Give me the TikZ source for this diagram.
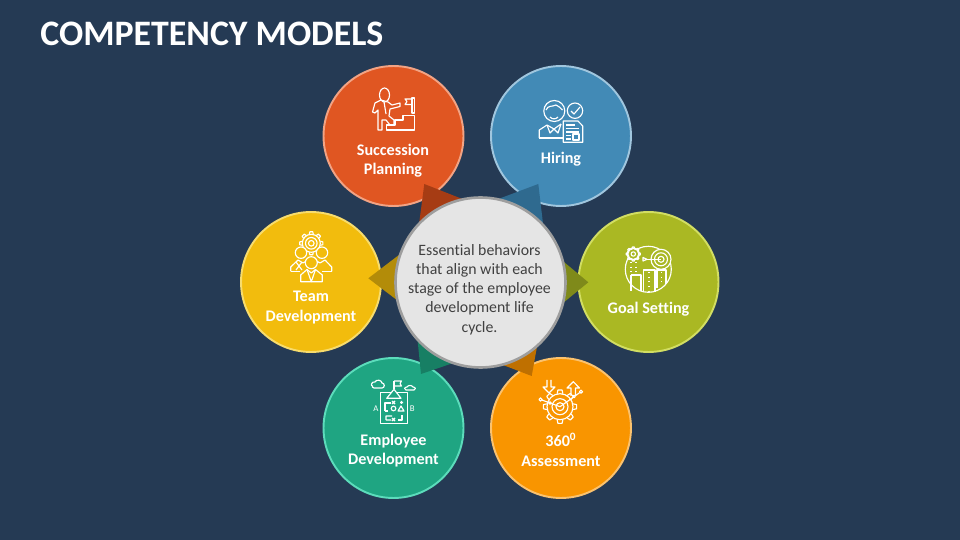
\documentclass[tikz,border=0pt]{standalone}
\usepackage{fontspec}
\setmainfont[Ligatures=NoCommon]{Carlito}
\definecolor{slate}{HTML}{253A54}
\definecolor{redfill}{HTML}{E05622}
\definecolor{redline}{HTML}{F2A384}
\definecolor{redtip}{HTML}{A63C14}
\definecolor{bluefill}{HTML}{428AB6}
\definecolor{blueline}{HTML}{A0C6DE}
\definecolor{bluetip}{HTML}{2F6A8F}
\definecolor{olivefill}{HTML}{AAB823}
\definecolor{oliveline}{HTML}{D2DE62}
\definecolor{olivetip}{HTML}{7F8A1A}
\definecolor{yellowfill}{HTML}{F2BC0D}
\definecolor{yellowline}{HTML}{F8DC6C}
\definecolor{yellowtip}{HTML}{B38C09}
\definecolor{tealfill}{HTML}{1FA582}
\definecolor{tealline}{HTML}{5CDCBB}
\definecolor{tealtip}{HTML}{177F64}
\definecolor{amberfill}{HTML}{F99500}
\definecolor{amberline}{HTML}{FBC26E}
\definecolor{ambertip}{HTML}{BF7000}
\newcommand{\cog}[3]{
  \draw[icon] (#1,#2) circle (#3);
  \foreach \a in {0,45,...,315}
    \draw[icon,shift={(#1,#2)},rotate=\a] (#3,-.22*#3) -- (1.28*#3,-.16*#3) -- (1.28*#3,.16*#3) -- (#3,.22*#3);
}
\begin{document}
\begin{tikzpicture}[x=.02cm,y=-.02cm,
    stage/.style={circle, inner sep=0pt, minimum size=2.8cm, line width=1.1pt},
    hub/.style={circle, inner sep=0pt, minimum size=3.4cm, line width=1.5pt, draw=black!38, fill=black!10},
    stagelabel/.style={white, align=center, font=\fontsize{9.2}{10.9}\selectfont\bfseries},
    icon/.style={white, line width=.65pt, line join=round},
    tiny/.style={white, inner sep=0pt, font=\fontsize{5}{5}\selectfont}]
   \fill[slate] (0,0) rectangle (960,540);
   \path[use as bounding box] (0,0) rectangle (960,540);

   \node[white, anchor=base west, inner sep=0pt, font=\fontsize{20.4}{24}\selectfont\bfseries] (title) at (40,46) {COMPETENCY MODELS};

   \node[stage, fill=redfill, draw=redline] (succession) at (393.5,136) {};
   \node[stage, fill=bluefill, draw=blueline] (hiring) at (561,136) {};
   \node[stage, fill=olivefill, draw=oliveline] (goal) at (648.5,282) {};
   \node[stage, fill=amberfill, draw=amberline] (assessment) at (561,428) {};
   \node[stage, fill=tealfill, draw=tealline] (employee) at (393.5,428) {};
   \node[stage, fill=yellowfill, draw=yellowline] (team) at (311,282) {};

   \fill[redtip] (424.3,184) -- (418,232) -- (475,204) -- cycle;
   \fill[bluetip] (538.3,184) -- (544,232) -- (485,204) -- cycle;
   \fill[olivetip] (588.3,282.3) -- (552,252) -- (552,312) -- cycle;
   \fill[ambertip] (531.7,376) -- (540,330) -- (490,360) -- cycle;
   \fill[tealtip] (421,374) -- (416,325) -- (465,359) -- cycle;
   \fill[yellowtip] (368.3,278.3) -- (410,246.6) -- (410,310) -- cycle;

   \node[hub] (core) at (480.5,282.5) {};
   \node[align=center, text=black!75, font=\fontsize{9}{10.95}\selectfont] (coretext) at (479.5,289.5) {Essential behaviors\\that align with each\\stage of the employee\\development life\\cycle.};

   \node[stagelabel] (successiontext) at (393,160.5) {Succession\\Planning};
   \node[stagelabel] (hiringtext) at (561,159) {Hiring};
   \node[stagelabel] (goaltext) at (648.5,309) {Goal Setting};
   \node[stagelabel] (assessmenttext) at (561,449.5) {360\textsuperscript{0}\\Assessment};
   \node[stagelabel] (employeetext) at (393.5,450.5) {Employee\\Development};
   \node[stagelabel] (teamtext) at (311,307.5) {Team\\Development};

   % succession
   \draw[icon] (384.5,95) ellipse (5 and 7);
   \draw[icon] (372.5,112) -- (375,103) -- (381,100) -- (388,102) -- (392,105) -- (400,103) -- (400,106.5) -- (390,109) -- (389,116) -- (394,120) -- (394,125) -- (390,125) -- (386,120) -- (382,120) -- (382,130) -- (378,130) -- (378,110) -- (375,113) -- cycle;
   \draw[icon] (384,102) -- (386,114);
   \draw[icon] (386.5,130) -- (386.5,125) -- (395,125) -- (395,120) -- (403,120) -- (403,115.5) -- (414.5,115.5) -- (414.5,130) -- cycle;
   \draw[icon] (412,98) rectangle (414.8,113);
   \draw[icon] (412,99) -- (405,99) -- (407,101.5) -- (405,104.5) -- (412,104.5);

   % hiring
   \draw[icon] (554.3,111) circle (10.5);
   \draw[icon] (546,110) .. controls (548,105) and (552,107) .. (556,105) .. controls (558,107) and (561,107) .. (562.5,110);
   \draw[icon] (550,117) .. controls (552,119.5) and (556,119.5) .. (558,117);
   \draw[icon] (575,110.7) circle (7.7);
   \draw[icon] (571,111) -- (574,114) -- (580,107);
   \draw[icon] (539.3,138) -- (539.3,130) -- (547,125) -- (554,129) -- (561,124);
   \draw[icon] (539.3,138) -- (563,138);
   \draw[icon] (547,125) -- (550,133) -- (554,129) -- (558,133) -- (561,124);
   \draw[icon, fill=bluefill] (563.3,121) -- (578,121) -- (582.7,126) -- (582.7,142.3) -- (563.3,142.3) -- cycle;
   \draw[icon] (566,125) -- (575,125) (566,128.5) -- (579,128.5) (566,132) -- (579,132) (566,135.5) -- (571,135.5) (566,139) -- (571,139);
   \draw[icon] (573,134) rectangle (579,140);

   % goal
   \draw[icon] (648.3,269.3) circle (23);
   \draw[icon, fill=olivefill] (661,259.3) circle (10);
   \draw[icon] (661,259.3) circle (6.5);
   \draw[icon] (661,259.3) circle (3);
   \draw[icon] (645,259.3) -- (661,259.3);
   \draw[icon] (643,257.5) -- (647,259.3) -- (643,261) -- cycle;
   \draw[icon, fill=olivefill] (633.3,254) circle (6);
   \cog{633.3}{254}{5.5}
   \draw[icon] (633.3,254) circle (2.2);
   \draw[icon] (631,275) -- (631,291.5) (641,291.5) -- (641,275) -- (631,275);
   \draw[icon] (643.5,292) -- (643.5,270) -- (655,270) -- (655,292);
   \draw[icon] (657,288) -- (657,270) -- (666,270) -- (666,284);
   \draw[icon, dotted] (636,262) -- (636,274) (631,262) -- (631,272) (649,272) -- (649,291) (661.5,272) -- (661.5,285);

   % team
   \cog{311.3}{243.3}{9}
   \draw[icon] (311.3,243.3) circle (5.8);
   \draw[icon] (311.3,243.3) circle (2.8);
   \draw[icon, fill=yellowfill] (301,252.7) circle (5.7);
   \draw[icon, fill=yellowfill] (322,252.7) circle (5.7);
   \draw[icon] (290.7,271.5) -- (290.7,267) -- (298,260) -- (303,263) -- (308,260);
   \draw[icon] (331.7,271.5) -- (331.7,267) -- (325,260) -- (320,263) -- (315,260);
   \draw[icon] (290.7,271.5) -- (300,271.5) (322,271.5) -- (331.7,271.5);
   \draw[icon] (296,262) -- (302,270) (302,262) -- (296,270);
   \draw[icon, fill=yellowfill] (311.3,262.7) circle (6);
   \draw[icon] (300.7,281.7) -- (300.7,275) -- (307,269.5) -- (311.3,273) -- (315.5,269.5) -- (322.3,275) -- (322.3,281.7) -- cycle;
   \draw[icon] (307,269.5) -- (311.3,281.7) -- (315.5,269.5);

   % employee
   \draw[icon] (380.7,392.7) rectangle (407.7,423.3);
   \draw[icon] (394,389.3) -- (394,380.7);
   \draw[icon] (394,381) -- (401.5,381) -- (400,383.5) -- (401.5,386) -- (394,386);
   \draw[icon, fill=tealfill] (386.7,398.3) -- (394,389.3) -- (401,398.3) -- cycle;
   \draw[icon] (372.5,386) .. controls (370,386) and (372,381) .. (375,382) .. controls (376,379) and (382,380) .. (382,383) .. controls (385,383) and (385,388) .. (382,388) -- (374,388) .. controls (372,388) and (372,386) .. (372.5,386);
   \draw[icon] (406,390) .. controls (404,390) and (404,387) .. (407,387) .. controls (408,385) and (412,385) .. (413,387) .. controls (416,387) and (416,390) .. (414,390) -- cycle;
   \node[tiny] (lefttag) at (376,408.5) {A};
   \node[tiny] (righttag) at (412.3,408.5) {B};
   \draw[icon] (393.5,408.5) circle (2.3);
   \draw[icon] (401,406) -- (404,411) -- (398,411) -- cycle;
   \draw[icon] (385,411) -- (385,403) -- (391,403);
   \draw[icon] (385,411) -- (388,411);
   \draw[icon] (392,401) -- (395,404) (395,401) -- (392,404) (400,402.5) -- (403,402.5) (401.5,401) -- (401.5,404);
   \draw[icon] (386,420) -- (386,416) -- (392,416) (386,420) -- (391,420) (392,418) -- (395,421) (395,418) -- (392,421);
   \draw[icon] (398,420) -- (402,420) -- (402,415);

   % assessment
   \cog{560}{406.7}{13}
   \draw[icon] (560,406.7) circle (8);
   \draw[icon] (560,406.7) circle (4);
   \draw[icon] (547,380) -- (547,387) -- (543,387) -- (549,393) -- (555,387) -- (551,387) -- (551,380);
   \draw[icon] (571,396) -- (571,388) -- (567,388) -- (573.3,381.7) -- (579.5,388) -- (575.5,388) -- (575.5,396);
   \draw[icon] (540.5,399.5) -- (560,406.7) -- (581,391.7);
   \draw[icon, fill=amberfill] (540.5,399.5) circle (1.6);
   \draw[icon, fill=amberfill] (581,391.7) circle (1.6);
   \draw[icon, fill=amberfill] (550,403) circle (1.3);
   \draw[icon, fill=amberfill] (574,396.5) circle (1.3);
\end{tikzpicture}
\end{document}
